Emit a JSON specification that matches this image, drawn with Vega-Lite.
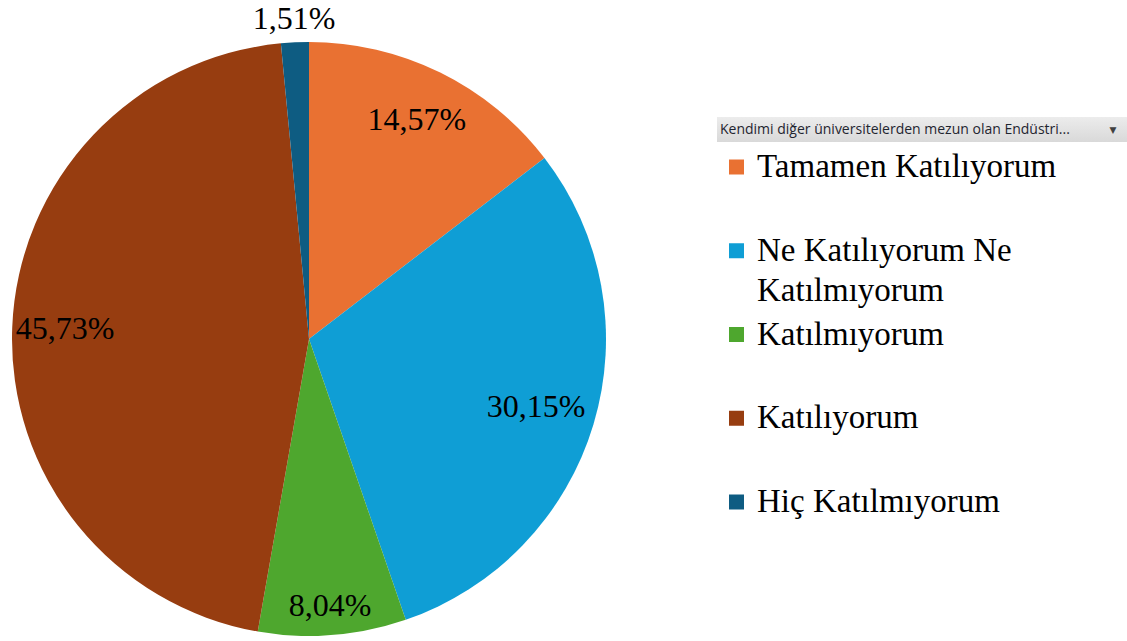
{
  "$schema": "https://vega.github.io/schema/vega-lite/v6.json",
  "background": "white",
  "padding": {"left": 12, "top": 3, "right": 0, "bottom": 0},
  "bounds": "flush",
  "config": {"view": {"stroke": null}},
  "datasets": {
    "resp": [
      {"i": 1, "cat": "Tamamen Katılıyorum", "label": "Tamamen Katılıyorum", "value": 14.57, "pct": "14,57%"},
      {"i": 2, "cat": "Ne Katılıyorum Ne Katılmıyorum", "label": "Ne Katılıyorum Ne\nKatılmıyorum", "value": 30.15, "pct": "30,15%"},
      {"i": 3, "cat": "Katılmıyorum", "label": "Katılmıyorum", "value": 8.04, "pct": "8,04%"},
      {"i": 4, "cat": "Katılıyorum", "label": "Katılıyorum", "value": 45.73, "pct": "45,73%"},
      {"i": 5, "cat": "Hiç Katılmıyorum", "label": "Hiç Katılmıyorum", "value": 1.51, "pct": "1,51%"}
    ]
  },
  "spacing": 111,
  "hconcat": [
    {
      "width": 594,
      "height": 594,
      "data": {"name": "resp"},
      "encoding": {
        "theta": {"field": "value", "type": "quantitative", "stack": true},
        "order": {"field": "i", "type": "quantitative"}
      },
      "layer": [
        {
          "mark": {"type": "arc", "outerRadius": 297},
          "encoding": {
            "color": {
              "field": "cat",
              "type": "nominal",
              "scale": {
                "domain": ["Tamamen Katılıyorum", "Ne Katılıyorum Ne Katılmıyorum", "Katılmıyorum", "Katılıyorum", "Hiç Katılmıyorum"],
                "range": ["#E97132", "#0F9ED5", "#4EA72E", "#973D10", "#0E5C82"]
              },
              "legend": null
            }
          }
        },
        {
          "mark": {"type": "text", "font": "Liberation Serif", "fontSize": 32, "align": "center", "baseline": "middle", "radius": 244},
          "encoding": {
            "detail": {"field": "cat", "type": "nominal"},
            "text": {"condition": {"test": "datum.i == 1 || datum.i == 4", "field": "pct"}, "value": ""},
            "color": {"value": "#000000"}
          }
        },
        {
          "mark": {"type": "text", "font": "Liberation Serif", "fontSize": 32, "align": "center", "baseline": "middle", "radius": 237},
          "encoding": {
            "detail": {"field": "cat", "type": "nominal"},
            "text": {"condition": {"test": "datum.i == 2", "field": "pct"}, "value": ""},
            "color": {"value": "#000000"}
          }
        },
        {
          "mark": {"type": "text", "font": "Liberation Serif", "fontSize": 32, "align": "center", "baseline": "middle", "radius": 268},
          "encoding": {
            "detail": {"field": "cat", "type": "nominal"},
            "text": {"condition": {"test": "datum.i == 3", "field": "pct"}, "value": ""},
            "color": {"value": "#000000"}
          }
        },
        {
          "mark": {"type": "text", "font": "Liberation Serif", "fontSize": 32, "align": "center", "baseline": "middle", "radius": 243, "dx": -3.5, "dy": -77},
          "encoding": {
            "detail": {"field": "cat", "type": "nominal"},
            "text": {"condition": {"test": "datum.i == 5", "field": "pct"}, "value": ""},
            "color": {"value": "#000000"}
          }
        }
      ]
    },
    {
      "spacing": 25,
      "bounds": "flush",
      "vconcat": [
        {
          "width": 410,
          "height": 50,
          "data": {"values": []},
          "mark": {"type": "text"},
          "encoding": {}
        },
        {
          "width": 410,
          "height": 25,
          "view": {
            "stroke": null,
            "fill": {
              "gradient": "linear", "x1": 0, "y1": 0, "x2": 0, "y2": 1,
              "stops": [{"offset": 0, "color": "#ececec"}, {"offset": 1, "color": "#d9d9d9"}]
            }
          },
          "data": {"values": [{"t": "Kendimi diğer üniversitelerden mezun olan Endüstri...", "arrow": "▼"}]},
          "layer": [
            {
              "mark": {"type": "text", "align": "left", "baseline": "middle", "font": "Open Sans", "fontSize": 14, "color": "#1f2530", "dx": 3},
              "encoding": {
                "x": {"datum": 0, "type": "quantitative", "scale": {"domain": [0, 1]}, "axis": null},
                "text": {"field": "t", "type": "nominal"}
              }
            },
            {
              "mark": {"type": "text", "align": "center", "baseline": "middle", "font": "DejaVu Sans", "fontSize": 9, "color": "#404040", "dx": -14},
              "encoding": {
                "x": {"datum": 1, "type": "quantitative", "scale": {"domain": [0, 1]}, "axis": null},
                "text": {"field": "arrow", "type": "nominal"}
              }
            }
          ]
        },
        {
          "width": 410,
          "height": 335,
          "data": {"name": "resp"},
          "encoding": {
            "y": {"field": "cat", "type": "nominal", "sort": {"field": "i"}, "scale": {"type": "point", "padding": 0}, "axis": null}
          },
          "layer": [
            {
              "mark": {"type": "point", "shape": "square", "filled": true, "size": 225, "opacity": 1, "xOffset": 19.5},
              "encoding": {
                "x": {"datum": 0, "type": "quantitative", "scale": {"domain": [0, 1]}, "axis": null},
                "color": {
                  "field": "cat",
                  "type": "nominal",
                  "scale": {
                    "domain": ["Tamamen Katılıyorum", "Ne Katılıyorum Ne Katılmıyorum", "Katılmıyorum", "Katılıyorum", "Hiç Katılmıyorum"],
                    "range": ["#E97132", "#0F9ED5", "#4EA72E", "#973D10", "#0E5C82"]
                  },
                  "legend": null
                }
              }
            },
            {
              "mark": {"type": "text", "align": "left", "baseline": "middle", "font": "Liberation Serif", "fontSize": 33, "lineBreak": "\n", "lineHeight": 40, "color": "#000000", "dx": 40},
              "encoding": {
                "x": {"datum": 0, "type": "quantitative", "scale": {"domain": [0, 1]}, "axis": null},
                "text": {"field": "label", "type": "nominal"}
              }
            }
          ]
        }
      ]
    }
  ]
}
